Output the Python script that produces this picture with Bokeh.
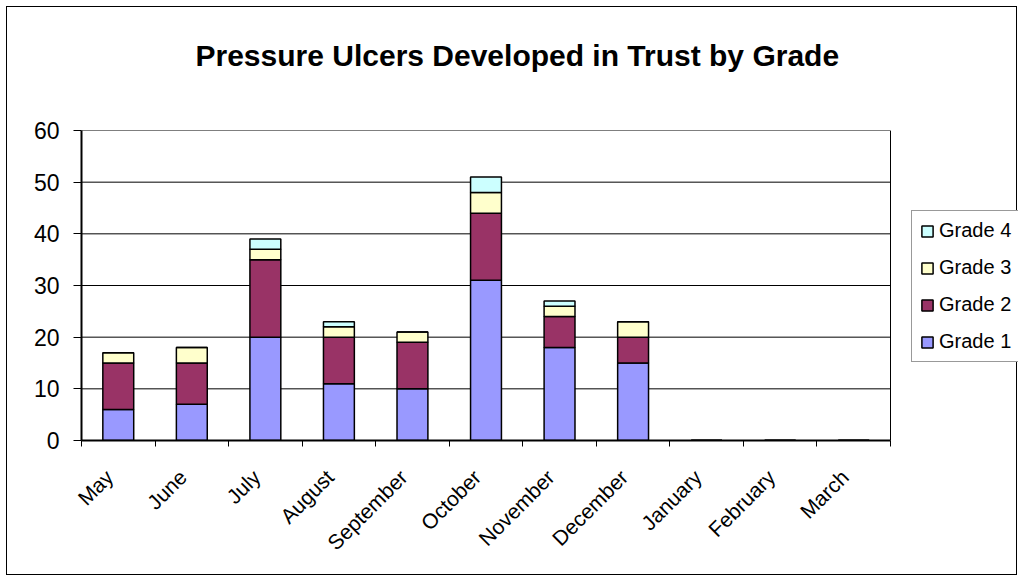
import math
from bokeh.plotting import figure
from bokeh.models import (ColumnDataSource, FixedTicker, Legend, LegendItem,
                          Range1d, Title)
from bokeh.embed import file_html
from bokeh.resources import INLINE

# Monthly pressure ulcer counts, split by grade
months = ["May", "June", "July", "August", "September", "October",
          "November", "December", "January", "February", "March"]
grade1 = [6, 7, 20, 11, 10, 31, 18, 15, 0, 0, 0]
grade2 = [9, 8, 15, 9, 9, 13, 6, 5, 0, 0, 0]
grade3 = [2, 3, 2, 2, 2, 4, 2, 3, 0, 0, 0]
grade4 = [0, 0, 2, 1, 0, 3, 1, 0, 0, 0, 0]
y_ticks = [0, 10, 20, 30, 40, 50, 60]

grades = ["Grade 1", "Grade 2", "Grade 3", "Grade 4"]
colors = ["#9999FF", "#993366", "#FFFFCC", "#CCFFFF"]

n = len(months)
centers = [i + 0.5 for i in range(n)]
bounds = list(range(n + 1))
# rotated month names end a little left of each bar's centre
label_pos = [c - 0.12 for c in centers]

source = ColumnDataSource(dict(
    x=centers,
    **{"Grade 1": grade1, "Grade 2": grade2, "Grade 3": grade3, "Grade 4": grade4},
))

FONT = "Liberation Sans"

# Canvas layout (pixels): the frame runs to the right edge so the legend can sit
# inside it; the bar area itself covers 809 px for the 11 months.
W, H = 1011, 569
LEFT, TOP, BOTTOM = 74, 123, 136
BAR_AREA = 809
x_end = n * (W - LEFT) / BAR_AREA

p = figure(width=W, height=H, output_backend="svg", toolbar_location=None,
           x_range=Range1d(0, x_end), y_range=Range1d(0, 60),
           min_border_left=LEFT, min_border_right=0,
           min_border_top=TOP, min_border_bottom=BOTTOM,
           background_fill_color="white", border_fill_color="white",
           title=None)
p.styles = {"margin-left": "6px", "margin-top": "6px", "border": "1px solid black"}
p.outline_line_color = None

# Title: a blank spacer title next to the frame, then the real title above it
p.add_layout(Title(text=" ", text_font_size="2px", standoff=55), "above")
p.add_layout(Title(text="Pressure Ulcers Developed in Trust by Grade", align="left",
                   text_font=FONT, text_font_size="30px", text_font_style="bold",
                   text_color="black", offset=114, standoff=0), "above")

# Horizontal grid lines and the right edge of the bar area
p.segment(x0=[0] * len(y_ticks), x1=[n] * len(y_ticks), y0=y_ticks, y1=y_ticks,
          line_color="black", line_width=1)
p.segment(x0=[n], x1=[n], y0=[0], y1=[60], line_color="black", line_width=1)

renderers = p.vbar_stack(grades, x="x", width=0.42, source=source,
                         fill_color=colors, line_color="black", line_width=1.5)

# Axes
p.xaxis.bounds = (0, n)
p.xaxis.ticker = FixedTicker(ticks=label_pos, minor_ticks=bounds)
p.xaxis.major_label_overrides = {c: m for c, m in zip(label_pos, months)}
p.xaxis.major_label_orientation = math.pi / 4
p.xaxis.major_tick_line_color = None
p.xaxis.minor_tick_line_color = "black"
p.xaxis.minor_tick_out = 6
p.xaxis.minor_tick_in = 0
p.xaxis.axis_line_color = "black"
p.xaxis.axis_line_width = 2
p.xaxis.major_label_text_font = FONT
p.xaxis.major_label_text_font_size = "21px"
p.xaxis.major_label_text_color = "black"
p.xaxis.major_label_standoff = 27

p.yaxis.ticker = FixedTicker(ticks=y_ticks)
p.yaxis.major_tick_out = 8
p.yaxis.major_tick_in = 0
p.yaxis.minor_tick_line_color = None
p.yaxis.axis_line_color = "black"
p.yaxis.axis_line_width = 2
p.yaxis.major_label_text_font = FONT
p.yaxis.major_label_text_font_size = "23px"
p.yaxis.major_label_text_color = "black"
p.yaxis.major_label_standoff = 14

p.xgrid.grid_line_color = None
p.ygrid.grid_line_color = None

# Legend, highest grade on top
items = [LegendItem(label=g, renderers=[r]) for g, r in zip(grades, renderers)][::-1]
legend = Legend(items=items, location=(830, 78),
                label_text_font=FONT, label_text_font_size="20px",
                label_text_color="black",
                glyph_width=14, glyph_height=14, label_standoff=5,
                label_height=20, spacing=14, padding=8, margin=0,
                border_line_color="#333333", border_line_width=1,
                background_fill_color="white", background_fill_alpha=1)
p.add_layout(legend, "center")

open("out.html", "w").write(file_html(p, INLINE))
